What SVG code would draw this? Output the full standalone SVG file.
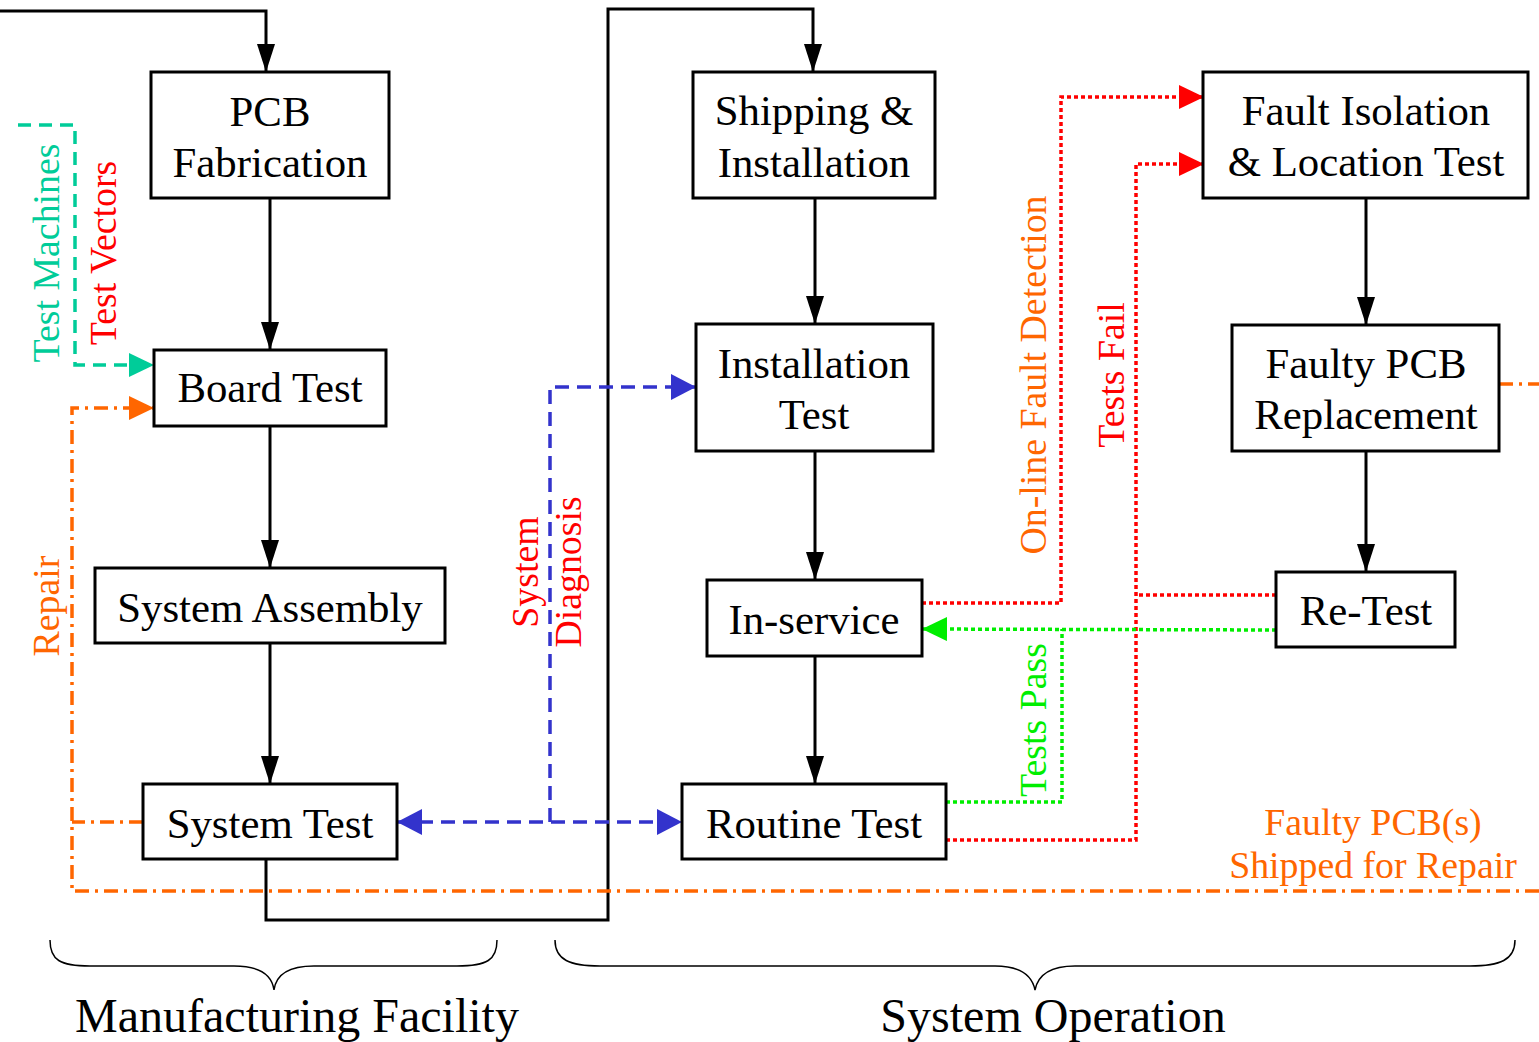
<svg xmlns="http://www.w3.org/2000/svg" width="1539" height="1042" viewBox="0 0 1539 1042">
<style>
.box{fill:#fff;stroke:#000;stroke-width:3}
.t{font-family:"Liberation Serif","Times New Roman",serif;font-size:42.8px;fill:#000;text-anchor:middle}
.big{font-size:48px}
.lbl{font-family:"Liberation Serif","Times New Roman",serif;font-size:37.8px;text-anchor:middle}
.blk{fill:none;stroke:#000;stroke-width:3}
.teal{fill:none;stroke:#00CC99;stroke-width:3.5;stroke-dasharray:13 8}
.blue{fill:none;stroke:#3333CC;stroke-width:3.5;stroke-dasharray:14 8}
.orng{fill:none;stroke:#FF6600;stroke-width:3.5;stroke-dasharray:14 6 3 6}
.red{fill:none;stroke:#FF0000;stroke-width:3.5;stroke-dasharray:4 3}
.grn{fill:none;stroke:#00EE00;stroke-width:3.5;stroke-dasharray:4 3}
.brace{fill:none;stroke:#000;stroke-width:1.5}
</style>
<defs>
<marker id="aB" markerUnits="userSpaceOnUse" markerWidth="28" markerHeight="20" refX="28" refY="10" orient="auto"><path d="M0,1 L28,10 L0,19 Z" fill="#000"/></marker>
<marker id="aT" markerUnits="userSpaceOnUse" markerWidth="25" markerHeight="24" refX="25" refY="12" orient="auto"><path d="M0,0 L25,12 L0,24 Z" fill="#00CC99"/></marker>
<marker id="aO" markerUnits="userSpaceOnUse" markerWidth="25" markerHeight="24" refX="25" refY="12" orient="auto"><path d="M0,0 L25,12 L0,24 Z" fill="#FF6600"/></marker>
<marker id="aBl" markerUnits="userSpaceOnUse" markerWidth="25" markerHeight="26" refX="25" refY="13" orient="auto-start-reverse"><path d="M0,0 L25,13 L0,26 Z" fill="#3333CC"/></marker>
<marker id="aR" markerUnits="userSpaceOnUse" markerWidth="25" markerHeight="24" refX="25" refY="12" orient="auto"><path d="M0,0 L25,12 L0,24 Z" fill="#FF0000"/></marker>
<marker id="aG" markerUnits="userSpaceOnUse" markerWidth="25" markerHeight="24" refX="25" refY="12" orient="auto"><path d="M0,0 L25,12 L0,24 Z" fill="#00EE00"/></marker>
</defs>

<g id="connectors">
<path class="blk" d="M0,11 L266,11 L266,72" marker-end="url(#aB)"/>
<path class="blk" d="M270,198 L270,350" marker-end="url(#aB)"/>
<path class="blk" d="M270,426 L270,568" marker-end="url(#aB)"/>
<path class="blk" d="M270,643 L270,784" marker-end="url(#aB)"/>
<path class="blk" d="M266,859 L266,920 L608,920 L608,9 L813,9 L813,72" marker-end="url(#aB)"/>
<path class="blk" d="M815,198 L815,324" marker-end="url(#aB)"/>
<path class="blk" d="M815,451 L815,580" marker-end="url(#aB)"/>
<path class="blk" d="M815,656 L815,784" marker-end="url(#aB)"/>
<path class="blk" d="M1366,198 L1366,325" marker-end="url(#aB)"/>
<path class="blk" d="M1366,451 L1366,572" marker-end="url(#aB)"/>

<path class="teal" d="M18,125 L75,125 L75,365 L154,365" marker-end="url(#aT)"/>
<path class="orng" d="M1539,891 L72,891 L72,408 L154,408" marker-end="url(#aO)"/>
<path class="orng" d="M143,822 L72,822"/>
<path class="orng" d="M1499,384 L1539,384"/>

<path class="blue" d="M397,822 L682,822" marker-start="url(#aBl)" marker-end="url(#aBl)"/>
<path class="blue" d="M550,822 L550,387 L696,387" marker-end="url(#aBl)"/>

<path class="red" d="M922,603 L1061,603 L1061,97 L1204,97" marker-end="url(#aR)"/>
<path class="red" d="M946,840 L1136,840 L1136,164 L1204,164" marker-end="url(#aR)"/>
<path class="red" d="M1276,595 L1136,595"/>

<path class="grn" d="M1276,630 L922,629" marker-end="url(#aG)"/>
<path class="grn" d="M946,802 L1062,802 L1062,629"/>
</g>

<g id="pcb-fabrication"><rect class="box" x="151" y="72" width="238" height="126"/><text class="t" x="270" y="126">PCB</text><text class="t" x="270" y="177">Fabrication</text></g>
<g id="board-test"><rect class="box" x="154" y="350" width="232" height="76"/><text class="t" x="270" y="402">Board Test</text></g>
<g id="system-assembly"><rect class="box" x="95" y="568" width="350" height="75"/><text class="t" x="270" y="622">System Assembly</text></g>
<g id="system-test"><rect class="box" x="143" y="784" width="254" height="75"/><text class="t" x="270" y="838">System Test</text></g>
<g id="shipping"><rect class="box" x="693" y="72" width="242" height="126"/><text class="t" x="814" y="125">Shipping &amp;</text><text class="t" x="814" y="177">Installation</text></g>
<g id="installation-test"><rect class="box" x="696" y="324" width="237" height="127"/><text class="t" x="814" y="378">Installation</text><text class="t" x="814" y="429">Test</text></g>
<g id="in-service"><rect class="box" x="707" y="580" width="215" height="76"/><text class="t" x="814" y="634">In-service</text></g>
<g id="routine-test"><rect class="box" x="682" y="784" width="264" height="75"/><text class="t" x="814" y="838">Routine Test</text></g>
<g id="fault-isolation"><rect class="box" x="1203" y="72" width="325" height="126"/><text class="t" x="1366" y="125">Fault Isolation</text><text class="t" x="1366" y="176">&amp; Location Test</text></g>
<g id="faulty-pcb-replacement"><rect class="box" x="1232" y="325" width="267" height="126"/><text class="t" x="1366" y="378">Faulty PCB</text><text class="t" x="1366" y="429">Replacement</text></g>
<g id="re-test"><rect class="box" x="1276" y="572" width="179" height="75"/><text class="t" x="1366" y="625">Re-Test</text></g>

<g id="labels">
<text class="lbl" fill="#00CC99" transform="translate(59,253) rotate(-90)">Test Machines</text>
<text class="lbl" fill="#FF0000" transform="translate(116,253) rotate(-90)">Test Vectors</text>
<text class="lbl" fill="#FF6600" transform="translate(59,606) rotate(-90)">Repair</text>
<text class="lbl" fill="#FF0000" transform="translate(538,572) rotate(-90)">System</text>
<text class="lbl" fill="#FF0000" transform="translate(581,572) rotate(-90)">Diagnosis</text>
<text class="lbl" fill="#FF6600" transform="translate(1046,375) rotate(-90)">On-line Fault Detection</text>
<text class="lbl" fill="#FF0000" transform="translate(1124,375) rotate(-90)">Tests Fail</text>
<text class="lbl" fill="#00EE00" transform="translate(1046,720) rotate(-90)">Tests Pass</text>
<text class="lbl" fill="#FF6600" x="1373" y="835">Faulty PCB(s)</text>
<text class="lbl" fill="#FF6600" x="1373" y="878">Shipped for Repair</text>
</g>

<g id="braces">
<path class="brace" d="M50,940 C50,960 60,966 90,966 L234,966 C260,966 272,975 274,990 C276,975 288,966 314,966 L457,966 C487,966 497,960 497,940"/>
<path class="brace" d="M555,940 C555,960 570,966 600,966 L995,966 C1020,966 1032,975 1035,990 C1038,975 1050,966 1075,966 L1470,966 C1500,966 1515,960 1515,940"/>
<text class="t big" x="297" y="1032">Manufacturing Facility</text>
<text class="t big" x="1053" y="1032">System Operation</text>
</g>
</svg>
